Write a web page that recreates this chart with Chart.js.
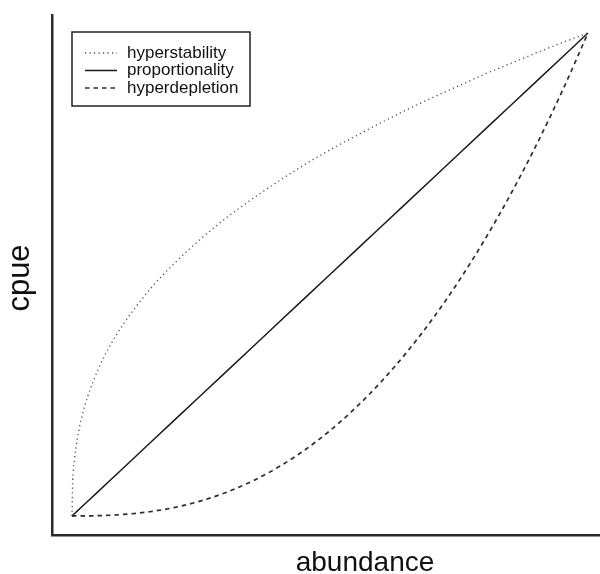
<!DOCTYPE html>
<html>
<head>
<meta charset="utf-8">
<script src="https://cdn.jsdelivr.net/npm/chart.js@4/dist/chart.umd.min.js"></script>
<style>
  html, body { margin: 0; padding: 0; background: #ffffff; overflow: hidden; }
  #wrap { width: 600px; height: 574px; }
</style>
</head>
<body>
<div id="wrap"><canvas id="c" width="600" height="574"></canvas></div>
<script>
// Relative abundance (x) and the cpue response under three scenarios
const abundance       = [0, 0.001, 0.0025, 0.005, 0.01, 0.02, 0.03, 0.05, 0.075, 0.1, 0.15, 0.2, 0.25, 0.3, 0.35, 0.4, 0.45, 0.5, 0.55, 0.6, 0.65, 0.7, 0.75, 0.8, 0.85, 0.9, 0.95, 1];
const hyperstability  = [0, 0.063, 0.091, 0.120, 0.158, 0.209, 0.246, 0.302, 0.355, 0.398, 0.468, 0.525, 0.574, 0.618, 0.657, 0.693, 0.727, 0.758, 0.787, 0.815, 0.842, 0.867, 0.891, 0.915, 0.937, 0.959, 0.980, 1];
const proportionality = [0, 0.001, 0.0025, 0.005, 0.01, 0.02, 0.03, 0.05, 0.075, 0.1, 0.15, 0.2, 0.25, 0.3, 0.35, 0.4, 0.45, 0.5, 0.55, 0.6, 0.65, 0.7, 0.75, 0.8, 0.85, 0.9, 0.95, 1];
const hyperdepletion  = [0, 0, 0, 0, 0, 0.0001, 0.0002, 0.0006, 0.0015, 0.0032, 0.0087, 0.0179, 0.0313, 0.0493, 0.0725, 0.1012, 0.1358, 0.1768, 0.2243, 0.2789, 0.3406, 0.41, 0.4871, 0.5724, 0.6661, 0.7684, 0.8796, 1];

const seriesNames = ['hyperstability', 'proportionality', 'hyperdepletion'];
const xTitle = 'abundance';
const yTitle = 'cpue';

const toPoints = ys => abundance.map((x, i) => ({ x: x, y: ys[i] }));

const FONT = '"Liberation Sans", Arial, Helvetica, sans-serif';

// Legend box and axis titles drawn on top of the plot
const decorations = {
  id: 'decorations',
  afterDraw(chart) {
    const ctx = chart.ctx;
    const area = chart.chartArea;
    ctx.save();

    // legend frame
    ctx.strokeStyle = '#222';
    ctx.lineWidth = 1.5;
    ctx.setLineDash([]);
    ctx.strokeRect(72, 32, 178, 74);

    const rows = [53, 70.5, 88];
    chart.data.datasets.forEach((ds, i) => {
      const y = rows[i];
      ctx.beginPath();
      ctx.strokeStyle = ds.borderColor;
      ctx.lineWidth = ds.borderWidth;
      ctx.setLineDash(ds.borderDash || []);
      ctx.moveTo(85, y);
      ctx.lineTo(117, y);
      ctx.stroke();
      ctx.setLineDash([]);
      ctx.fillStyle = '#111';
      ctx.font = '17px ' + FONT;
      ctx.textAlign = 'left';
      ctx.textBaseline = 'middle';
      ctx.fillText(ds.label, 127, y);
    });

    // axis titles
    ctx.fillStyle = '#111';
    ctx.font = '28px ' + FONT;
    ctx.textAlign = 'center';
    ctx.textBaseline = 'alphabetic';
    ctx.fillText(xTitle, 365, 571);

    ctx.translate(29, (area.top + area.bottom) / 2 + 3);
    ctx.rotate(-Math.PI / 2);
    ctx.font = '31px ' + FONT;
    ctx.fillText(yTitle, 0, 0);
    ctx.restore();
  }
};

new Chart(document.getElementById('c'), {
  type: 'line',
  data: {
    datasets: [
      {
        label: seriesNames[0],
        data: toPoints(hyperstability),
        borderColor: '#4a4a4a',
        borderWidth: 1.3,
        borderDash: [1.2, 3.3],
        pointRadius: 0,
        cubicInterpolationMode: 'monotone',
        fill: false
      },
      {
        label: seriesNames[1],
        data: toPoints(proportionality),
        borderColor: '#1a1a1a',
        borderWidth: 1.5,
        pointRadius: 0,
        fill: false
      },
      {
        label: seriesNames[2],
        data: toPoints(hyperdepletion),
        borderColor: '#2e2e2e',
        borderWidth: 1.7,
        borderDash: [4.5, 4],
        pointRadius: 0,
        cubicInterpolationMode: 'monotone',
        fill: false
      }
    ]
  },
  options: {
    responsive: false,
    animation: false,
    layout: { padding: { left: 52, top: 15, right: 0, bottom: 39 } },
    plugins: { legend: { display: false }, tooltip: { enabled: false } },
    scales: {
      x: {
        type: 'linear',
        min: -0.0388,
        max: 1.0233,
        grid: { display: false, drawTicks: false },
        ticks: { display: false },
        border: { display: true, color: '#2a2a2a', width: 2.5 }
      },
      y: {
        type: 'linear',
        min: -0.0394,
        max: 1.0374,
        grid: { display: false, drawTicks: false },
        ticks: { display: false },
        border: { display: true, color: '#2a2a2a', width: 2.5 }
      }
    }
  },
  plugins: [decorations]
});
</script>
</body>
</html>
